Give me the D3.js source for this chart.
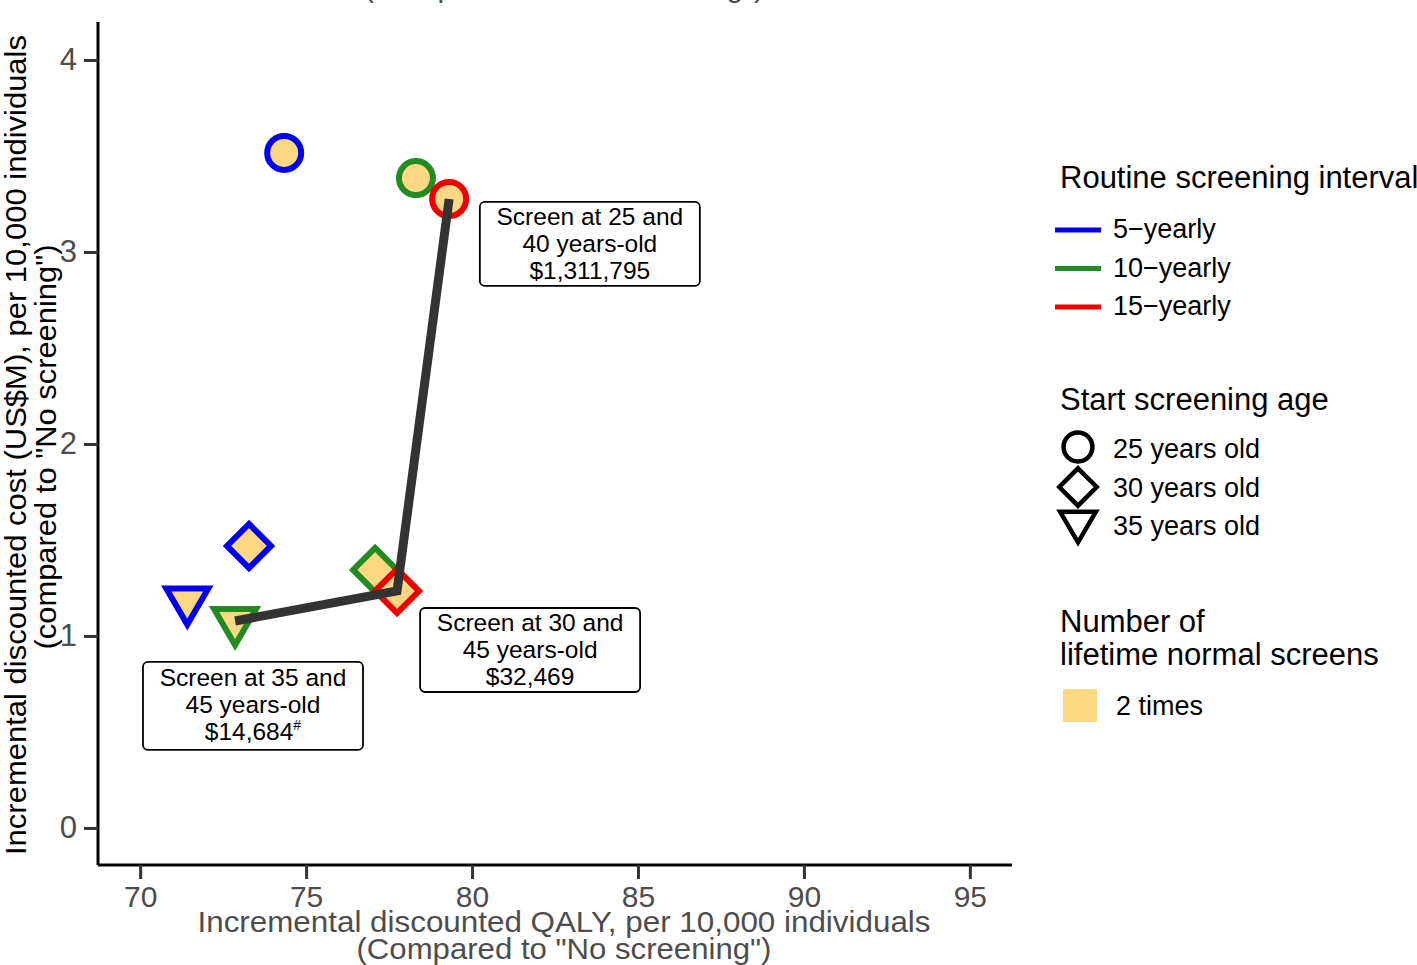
<!DOCTYPE html>
<html><head><meta charset="utf-8">
<script src="https://cdn.jsdelivr.net/npm/d3@7"></script>
<style>
body{margin:0;background:#fff;}
text{font-family:"Liberation Sans",Arial,Helvetica,sans-serif;}
</style></head>
<body><svg id="chart" width="1417" height="965"></svg>
<script>
// ---- data ----
const intervals = ["5-yearly","10-yearly","15-yearly"];
const intervalLabels = ["5\u2212yearly","10\u2212yearly","15\u2212yearly"];
const intervalColors = ["#0000EE","#228B22","#EE0000"];
const startAges = ["25 years old","30 years old","35 years old"];
const shapesByAge = ["circle","diamond","triangle"];
// points: interval, start age, QALY, cost (US$M)
const pointInterval = ["5-yearly","10-yearly","15-yearly","5-yearly","10-yearly","15-yearly","5-yearly","10-yearly"];
const pointAge      = ["25 years old","25 years old","25 years old","30 years old","30 years old","30 years old","35 years old","35 years old"];
const pointQALY     = [74.34, 78.31, 79.31, 73.28, 77.08, 77.74, 71.42, 72.86];
const pointCost     = [3.516, 3.385, 3.276, 1.469, 1.344, 1.234, 1.185, 1.078];
// efficiency frontier
const frontierQALY = [72.86, 77.74, 79.31];
const frontierCost = [1.078, 1.234, 3.276];
// annotations
const annoLines = [
  ["Screen at 25 and","40 years-old","$1,311,795"],
  ["Screen at 30 and","45 years-old","$32,469"],
  ["Screen at 35 and","45 years-old","$14,684"]
];
const annoSup = ["","","#"];
const annoQALY = [83.55, 81.75, 73.40];
const annoCost = [3.042, 0.927, 0.641];
const xTicks = [70,75,80,85,90,95];
const yTicks = [0,1,2,3,4];
const fillColor = "#FDD882";

// ---- layout ----
const svg = d3.select("#chart");
const x = d3.scaleLinear().domain([68.73, 96.27]).range([98, 1012]);
const y = d3.scaleLinear().domain([-0.193, 4.198]).range([865, 22]);
const color = d3.scaleOrdinal().domain(intervals).range(intervalColors);
const shapeOf = d3.scaleOrdinal().domain(startAges).range(shapesByAge);
const grey = "#4D4D4D";

function shapePath(s, k){
  k = k || 1;
  if(s==="circle"){ const r=17*k; return `M${-r},0A${r},${r} 0 1,0 ${r},0A${r},${r} 0 1,0 ${-r},0Z`; }
  if(s==="diamond"){ const d=22*k; return `M0,${-d}L${d},0L0,${d}L${-d},0Z`; }
  return `M${-21*k},${-12*k}L${21*k},${-12*k}L0,${24*k}Z`;
}

// top clipped duplicate of axis title
svg.append("text").attr("x",564).attr("y",-3).attr("text-anchor","middle")
  .attr("font-size",30).attr("fill",grey).text('(Compared to "No screening")');

// axes
const xAxis = d3.axisBottom(x).tickValues(xTicks).tickFormat(d3.format("d")).tickSize(14).tickPadding(6);
const gx = svg.append("g").attr("transform","translate(0,865)").call(xAxis);
gx.select(".domain").attr("stroke","#000").attr("stroke-width",3).attr("d","M98,0H1012");
gx.selectAll(".tick line").attr("stroke","#333").attr("stroke-width",3);
gx.selectAll(".tick text").attr("font-size",30).attr("fill",grey).attr("font-family","Liberation Sans, Arial").attr("dy","0.72em");

const yAxis = d3.axisLeft(y).tickValues(yTicks).tickFormat(d3.format("d")).tickSize(14).tickPadding(7);
const gy = svg.append("g").attr("transform","translate(98,0)").call(yAxis);
gy.select(".domain").attr("stroke","#000").attr("stroke-width",3).attr("d","M0,22V865");
gy.selectAll(".tick line").attr("stroke","#333").attr("stroke-width",3);
gy.selectAll(".tick text").attr("font-size",31).attr("fill",grey).attr("font-family","Liberation Sans, Arial");

// axis titles
svg.append("text").attr("x",564).attr("y",932).attr("text-anchor","middle").attr("font-size",30)
  .attr("fill",grey).attr("textLength",733).attr("lengthAdjust","spacingAndGlyphs")
  .text("Incremental discounted QALY, per 10,000 individuals");
svg.append("text").attr("x",564).attr("y",959).attr("text-anchor","middle").attr("font-size",30)
  .attr("fill",grey).attr("textLength",415).attr("lengthAdjust","spacingAndGlyphs")
  .text('(Compared to "No screening")');
svg.append("text").attr("transform","translate(26,445) rotate(-90)").attr("text-anchor","middle")
  .attr("font-size",30).attr("fill","#000").attr("textLength",820).attr("lengthAdjust","spacingAndGlyphs")
  .text("Incremental discounted cost (US$M), per 10,000 individuals");
svg.append("text").attr("transform","translate(56,447) rotate(-90)").attr("text-anchor","middle")
  .attr("font-size",30).attr("fill","#000").attr("textLength",405).attr("lengthAdjust","spacingAndGlyphs")
  .text('(compared to "No screening")');

// points
const pts = pointQALY.map((q,i)=>({q, c:pointCost[i], iv:pointInterval[i], age:pointAge[i]}));
const ord = p => intervals.indexOf(p.iv);
svg.append("g").selectAll("path").data(pts.slice().sort((a,b)=>ord(a)-ord(b)))
  .join("path")
  .attr("transform",d=>`translate(${x(d.q)},${y(d.c)})`)
  .attr("d",d=>shapePath(shapeOf(d.age)))
  .attr("fill",fillColor).attr("stroke",d=>color(d.iv)).attr("stroke-width",6)
  .attr("stroke-linejoin","miter");

// frontier
const fr = frontierQALY.map((q,i)=>[q,frontierCost[i]]);
svg.append("path").datum(fr)
  .attr("d",d3.line().x(d=>x(d[0])).y(d=>y(d[1])))
  .attr("fill","none").attr("stroke","#333333").attr("stroke-width",9).attr("stroke-linejoin","miter");

// annotation labels
annoLines.forEach((lines,i)=>{
  const cx = x(annoQALY[i]), cy = y(annoCost[i]);
  const g = svg.append("g");
  const rect = g.append("rect").attr("fill","#fff").attr("stroke","#000").attr("stroke-width",1.8).attr("rx",5);
  const t = g.append("text").attr("text-anchor","middle").attr("font-size",24.5).attr("fill","#000");
  lines.forEach((ln,j)=>{
    t.append("tspan").attr("x",cx).attr("y",cy + (j-1)*27 + 8.5).text(ln);
    if(j===lines.length-1 && annoSup[i]){
      t.append("tspan").attr("font-size",14).attr("dy",-10).text(annoSup[i]);
    }
  });
  const w = 220, h = (i===2?88:84);
  rect.attr("x",cx-w/2).attr("y",cy-h/2 + (i===2?1:0)).attr("width",w).attr("height",h);
});

// legend
const lg = svg.append("g");
lg.append("text").attr("x",1060).attr("y",188).attr("font-size",31).text("Routine screening interval");
intervals.forEach((iv,i)=>{
  const yy = 230 + i*38.5;
  lg.append("line").attr("x1",1055).attr("x2",1101).attr("y1",yy).attr("y2",yy)
    .attr("stroke",color(iv)).attr("stroke-width",5);
  lg.append("text").attr("x",1113).attr("y",yy+8).attr("font-size",27).text(intervalLabels[i]);
});
lg.append("text").attr("x",1060).attr("y",410).attr("font-size",31).text("Start screening age");
startAges.forEach((a,i)=>{
  const yy = [447,487,522][i];
  lg.append("path").attr("transform",`translate(1078,${yy})`).attr("d",shapePath(shapeOf(a),0.85))
    .attr("fill","none").attr("stroke","#000").attr("stroke-width",4.5);
  lg.append("text").attr("x",1113).attr("y",[458,497,535][i]).attr("font-size",27).text(a);
});
lg.append("text").attr("x",1060).attr("y",632).attr("font-size",31).text("Number of");
lg.append("text").attr("x",1060).attr("y",665).attr("font-size",31).text("lifetime normal screens");
lg.append("rect").attr("x",1063).attr("y",689).attr("width",34).attr("height",33).attr("fill",fillColor);
lg.append("text").attr("x",1116).attr("y",715).attr("font-size",27).text("2 times");
</script></body></html>
